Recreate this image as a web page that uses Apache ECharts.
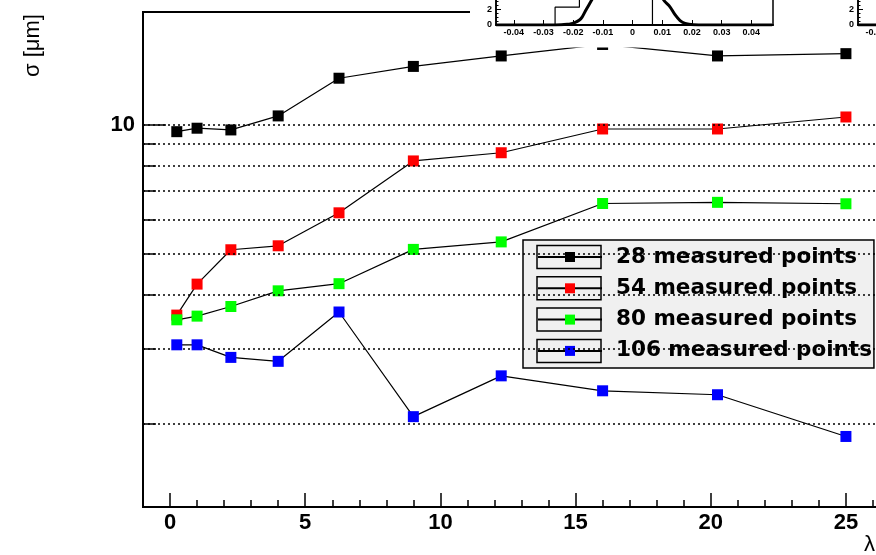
<!DOCTYPE html>
<html><head><meta charset="utf-8">
<script src="https://cdn.jsdelivr.net/npm/echarts@6/dist/echarts.min.js"></script>
<style>html,body{margin:0;padding:0;background:#fff}#c{width:876px;height:555px}</style>
</head><body><div id="c"></div>
<script>
// ---- data ----
const lambdaValues = [0.25, 1, 2.25, 4, 6.25, 9, 12.25, 16, 20.25, 25];
const seriesNames = ['28 measured points', '54 measured points', '80 measured points', '106 measured points'];
const seriesColors = ['#000000', '#ff0000', '#00ff00', '#0000ff'];
const sigma28 = [9.62, 9.80, 9.71, 10.47, 12.82, 13.66, 14.45, 15.37, 14.45, 14.63];
const sigma54 = [3.59, 4.24, 5.10, 5.21, 6.22, 8.22, 8.59, 9.76, 9.76, 10.41];
const sigma80 = [3.50, 3.57, 3.76, 4.09, 4.25, 5.11, 5.32, 6.54, 6.58, 6.53];
const sigma106 = [3.06, 3.06, 2.86, 2.80, 3.65, 2.08, 2.59, 2.39, 2.34, 1.87];
const xTickLabels = [0, 5, 10, 15, 20, 25];
const yTickLabels = [10];
const yMinorTicks = [2, 3, 4, 5, 6, 7, 8, 9];
const yGridValues = [2, 3, 4, 5, 6, 7, 8, 9, 10];
const insetTickLabels = [-0.04, -0.03, -0.02, -0.01, 0, 0.01, 0.02, 0.03, 0.04];
// inset 1: histogram (bin left edges and contents) and fitted curve
const histEdges = [-0.046, -0.0261, -0.0179, -0.0097, -0.0015, 0.0067, 0.047];
const histCounts = [0, 2.25, 7, 10, 9, 0, 0];
const fitX = [-0.046, -0.030, -0.026, -0.024, -0.022, -0.021, -0.0195, -0.018, -0.017, -0.0157, -0.0143, -0.0137, -0.012, -0.009, -0.006, -0.002, 0.002, 0.005, 0.008, 0.0104, 0.0126, 0.0143, 0.016, 0.0177, 0.0205, 0.025, 0.047];
const fitY = [0, 0, 0.01, 0.03, 0.08, 0.12, 0.3, 0.6, 1.0, 1.9, 2.8, 3.2, 4.6, 7.2, 9.4, 10.8, 10.0, 8.2, 5.8, 3.2, 2.3, 1.3, 0.55, 0.2, 0.03, 0, 0];
// inset 2: only its left tail is visible
const fit2X = [-0.046, -0.040, -0.035, -0.030];
const fit2Y = [0, 0, 0, 0];

// ---- helpers ----
const zip = (xs, ys) => xs.map((x, i) => [x, ys[i]]);
const sigmaSets = [sigma28, sigma54, sigma80, sigma106];
const tickFont = { fontFamily: 'Liberation Sans', fontWeight: 'bold', fontSize: 22, color: '#000' };
const insetFont = { fontFamily: 'Liberation Sans', fontWeight: 'bold', fontSize: 9, color: '#000' };

function insetAxes(gi) {
  return {
    x: [
      { gridIndex: gi, type: 'value', min: -0.046, max: 0.0473, z: 65,
        axisLine: { show: true, onZero: false, lineStyle: { color: '#000', width: 2 } },
        axisTick: { show: true, inside: true, length: 5, customValues: insetTickLabels, lineStyle: { color: '#000', width: 1 } },
        axisLabel: { show: true, customValues: insetTickLabels, margin: 3, ...insetFont },
        splitLine: { show: false } },
      { gridIndex: gi, type: 'value', min: -0.046, max: 0.0473, interval: 0.002, z: 65,
        axisLine: { show: false, onZero: false }, axisTick: { show: true, inside: true, length: 2.5, lineStyle: { color: '#000', width: 1 } },
        axisLabel: { show: false }, splitLine: { show: false } }
    ],
    y: { gridIndex: gi, type: 'value', min: 0, max: 12, interval: 2, z: 65,
      axisLine: { show: true, onZero: false, lineStyle: { color: '#000', width: 1.5 } },
      axisTick: { show: true, inside: true, length: 5, lineStyle: { color: '#000', width: 1 } },
      minorTick: { show: true, splitNumber: 4, length: 2.5, lineStyle: { color: '#000', width: 1 } },
      axisLabel: { show: true, margin: 4, ...insetFont },
      splitLine: { show: false } }
  };
}
const in1 = insetAxes(1), in2 = insetAxes(2);

const chart = echarts.init(document.getElementById('c'), null, { renderer: 'canvas' });

const legendRowCenters = [257, 288.3, 319.6, 350.9];

const option = {
  animation: false,
  backgroundColor: '#fff',
  grid: [
    { left: 143, top: 12, width: 757, height: 495, show: true, borderColor: '#000', borderWidth: 2, backgroundColor: 'transparent', containLabel: false, outerBoundsMode: 'none' },
    { left: 496, top: -70, width: 277, height: 95, show: true, borderColor: '#000', borderWidth: 1.5, backgroundColor: 'transparent', z: 60, containLabel: false, outerBoundsMode: 'none' },
    { left: 858, top: -70, width: 277, height: 95, show: true, borderColor: '#000', borderWidth: 1.5, backgroundColor: 'transparent', z: 60, containLabel: false, outerBoundsMode: 'none' }
  ],
  xAxis: [
    { gridIndex: 0, type: 'value', min: -1, max: 27, position: 'bottom',
      axisLine: { show: true, onZero: false, lineStyle: { color: '#000', width: 2 } },
      axisTick: { show: true, inside: true, length: 14, customValues: xTickLabels, lineStyle: { color: '#000', width: 1.5 } },
      axisLabel: { show: true, customValues: xTickLabels, margin: 5, ...tickFont },
      splitLine: { show: false } },
    { gridIndex: 0, type: 'value', min: -1, max: 27, interval: 1, position: 'bottom',
      axisLine: { show: false, onZero: false }, axisTick: { show: true, inside: true, length: 7, lineStyle: { color: '#000', width: 1.5 } },
      axisLabel: { show: false }, splitLine: { show: false } },
    in1.x[0], in1.x[1], in2.x[0], in2.x[1]
  ],
  yAxis: [
    { gridIndex: 0, type: 'log', logBase: 10, min: 1.28, max: 18.3, position: 'left',
      axisLine: { show: true, onZero: false, lineStyle: { color: '#000', width: 2 } },
      axisTick: { show: true, inside: true, length: 23, customValues: yTickLabels, lineStyle: { color: '#000', width: 1.5 } },
      axisLabel: { show: true, customValues: yTickLabels, margin: 8, ...tickFont },
      minorTick: { show: false }, splitLine: { show: false } },
    { gridIndex: 0, type: 'log', logBase: 10, min: 1.28, max: 18.3, position: 'left',
      axisLine: { show: false, onZero: false },
      axisTick: { show: true, inside: true, length: 13, customValues: yMinorTicks, lineStyle: { color: '#000', width: 1.5 } },
      axisLabel: { show: false }, splitLine: { show: false } },
    in1.y, in2.y
  ],
  legend: {
    data: seriesNames,
    orient: 'vertical', left: 523, top: 240,
    padding: [5, 2, 5, 14],
    itemWidth: 64, itemHeight: 12.5, itemGap: 7.3,
    backgroundColor: '#f0f0f0', borderColor: '#000', borderWidth: 1.5, borderRadius: 0,
    textStyle: { fontFamily: 'DejaVu Sans', fontWeight: 'bold', fontSize: 21.5, lineHeight: 24, color: '#000', padding: [0, 0, 0, 9] }
  },
  series: [
    { type: 'line', name: 'grid', xAxisIndex: 0, yAxisIndex: 0, data: [], z: 1, silent: true,
      markLine: { silent: true, symbol: ['none', 'none'], label: { show: false }, animation: false,
        lineStyle: { color: '#000', type: [2, 3], width: 1.5 },
        data: yGridValues.map(v => ({ yAxis: v })) } },
    ...sigmaSets.map((vals, i) => ({
      type: 'line', name: seriesNames[i], xAxisIndex: 0, yAxisIndex: 0,
      data: zip(lambdaValues, vals),
      symbol: 'rect', symbolSize: 11,
      lineStyle: { color: '#000', width: 1.2 },
      itemStyle: { color: seriesColors[i] },
      z: 2 + i
    })),
    { type: 'line', name: 'hist1', xAxisIndex: 2, yAxisIndex: 2, data: zip(histEdges, histCounts), step: 'end',
      symbol: 'none', lineStyle: { color: '#000', width: 1.2 }, z: 70, clip: true },
    { type: 'line', name: 'fit1', xAxisIndex: 2, yAxisIndex: 2, data: zip(fitX, fitY), smooth: 0.3,
      symbol: 'none', lineStyle: { color: '#000', width: 3 }, z: 71, clip: true },
    { type: 'line', name: 'fit2', xAxisIndex: 4, yAxisIndex: 3, data: zip(fit2X, fit2Y),
      symbol: 'none', lineStyle: { color: '#000', width: 3 }, z: 71, clip: true }
  ],
  graphic: [
    { type: 'rect', z: 50, silent: true, shape: { x: 470, y: 0, width: 406, height: 47.5 }, style: { fill: '#fff' } },
    ...legendRowCenters.map(c => ({ type: 'rect', z: 10, silent: true,
      shape: { x: 537, y: c - 11.5, width: 64, height: 23 }, style: { fill: 'none', stroke: '#000', lineWidth: 1.5 } })),
    { type: 'text', z: 20, x: 33, y: 45.5, rotation: Math.PI / 2,
      style: { text: 'σ [μm]', fontFamily: 'Liberation Sans', fontSize: 22, fill: '#000',
        align: 'center', verticalAlign: 'middle', textAlign: 'center', textVerticalAlign: 'middle' } },
    { type: 'text', z: 20, x: 864, y: 545,
      style: { text: 'λ', fontFamily: 'Liberation Sans', fontSize: 22, fill: '#000',
        align: 'left', verticalAlign: 'middle', textAlign: 'left', textVerticalAlign: 'middle' } }
  ]
};
chart.setOption(option);
</script></body></html>
